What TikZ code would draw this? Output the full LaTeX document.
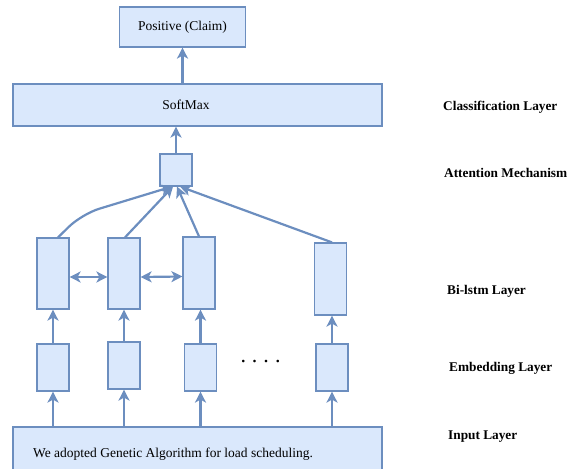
\documentclass[tikz,border=0pt]{standalone}
\usepackage{fontspec}
\setmainfont{Liberation Serif}
\usetikzlibrary{arrows.meta}
\definecolor{cellfill}{HTML}{DAE8FC}
\definecolor{celledge}{HTML}{6C8EBF}
\tikzset{
  cell/.style={draw=celledge, fill=cellfill, line width=1.2pt, inner sep=0pt, minimum width=32pt},
  flow/.style={draw=celledge, line width=2.2pt, ->},
  layer/.style={anchor=west, inner sep=0pt, font=\fontsize{13.3}{16}\selectfont\bfseries},
}
\begin{document}
\begin{tikzpicture}[x=1pt, y=-1pt, font=\fontsize{13.5}{16}\selectfont,
    >={Stealth[length=11pt, width=11pt, inset=3pt]}]
  \useasboundingbox (0,0) rectangle (569,468);
  % the output, the softmax and the attention cell
  \node[cell, minimum width=126pt, minimum height=40pt] (pos) at (182.5,27) {Positive (Claim)};
  \node[cell, minimum width=369pt, minimum height=42pt] (soft) at (197.5,105) {};
  \node (softtext) at (186,105) {SoftMax};
  \node[cell, minimum height=32pt] (att) at (176,170) {};
  % the bi-lstm cells and the embedding cells
  \foreach \n/\x/\y/\h in {1/53/273.5/71, 2/124/273.5/71, 3/199/273/72, 4/330.5/279/72} {
    \node[cell, minimum height=\h] (b\n) at (\x,\y) {};
  }
  \foreach \n/\x/\y in {1/53/367.5, 2/124/365.5, 3/200.5/367.5, 4/332/367.5} {
    \node[cell, minimum height=47pt] (e\n) at (\x,\y) {};
  }
  \node[font=\fontsize{22}{24}\selectfont] (dots) at (260.5,362) {.\hspace{6pt}.\hspace{6pt}.\hspace{6pt}.};
  % the input sentence
  \node[cell, minimum width=369pt, minimum height=45pt] (inp) at (197.5,449.5) {};
  \node (inptext) at (173,454) {We adopted Genetic Algorithm for load scheduling.};
  % arrows up through the columns
  \foreach \n in {1,...,4} {
    \draw[flow] (e\n.south |- inp.north) -- (e\n.south);
    \draw[flow] (e\n.north) -- (e\n.north |- b\n.south);
  }
  \draw[flow, <->] ([yshift=-3.5pt]b1.east) -- ([yshift=-3.5pt]b2.west);
  \draw[flow, <->] ([yshift=-3.5pt]b2.east) -- ([yshift=-3.5pt]b3.west);
  % into the attention cell and on to the top
  \draw[flow, rounded corners=18pt] ([xshift=5pt]b1.north) -- (82,214) -- ([xshift=-4pt]att.south);
  \draw[flow] ([xshift=1pt]b2.north) -- ([xshift=-3pt]att.south);
  \draw[flow] (b3.north) -- ([xshift=1pt]att.south);
  \draw[flow] ([xshift=1.5pt]b4.north) -- ([xshift=4pt]att.south);
  \draw[flow] (att.north) -- (att.north |- soft.south);
  \draw[flow] (soft.north -| pos.south) -- (pos.south);
  % layer names
  \node[layer] (lclass) at (443,107) {Classification Layer};
  \node[layer] (latt) at (444,173) {Attention Mechanism};
  \node[layer] (lbi) at (447,291) {Bi-lstm Layer};
  \node[layer] (lemb) at (449,368) {Embedding Layer};
  \node[layer] (linp) at (448,437) {Input Layer};
\end{tikzpicture}
\end{document}
